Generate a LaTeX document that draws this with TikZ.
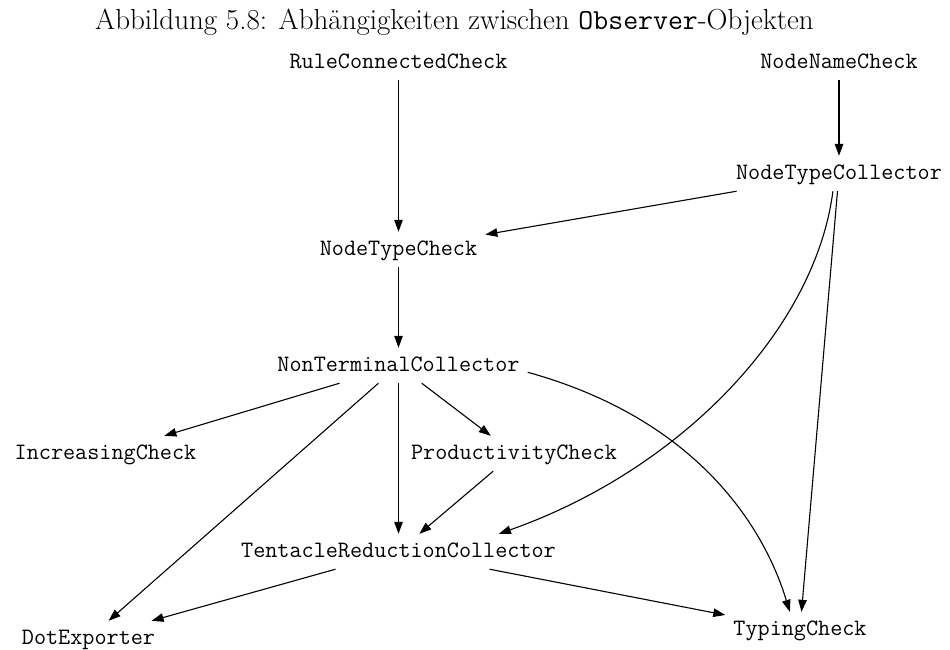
\documentclass[tikz,border=0pt]{standalone}
\usetikzlibrary{arrows.meta}
\begin{document}
\begin{tikzpicture}[x=1pt,y=-1pt,
  obs/.style={font=\fontsize{23.5}{28}\selectfont\ttfamily, inner xsep=8pt, inner ysep=7.5pt,
    text height=15.5pt, text depth=4.5pt},
  dep/.style={line width=1.1pt, -{Triangle[length=12pt,width=8.5pt]}}]
\useasboundingbox (0,0) rectangle (950,649);

% caption
\node[anchor=base west, inner sep=0pt, font=\fontsize{29}{35}\selectfont] (cap) at (95,29)
  {Abbildung 5.8: Abhängigkeiten zwischen \texttt{Observer}-Objekten};

% observer objects
\node[obs] (rcc)   at (398.5,62.5)  {RuleConnectedCheck};
\node[obs] (nnc)   at (839,62.5)    {NodeNameCheck};
\node[obs] (ntcol) at (839,173.5)   {NodeTypeCollector};
\node[obs] (ntchk) at (398.5,249.5) {NodeTypeCheck};
\node[obs] (ntc)   at (398.5,365.5) {NonTerminalCollector};
\node[obs] (inc)   at (105.5,453.5) {IncreasingCheck};
\node[obs] (prod)  at (514,453.5)   {ProductivityCheck};
\node[obs] (trc)   at (398.5,551.5) {TentacleReductionCollector};
\node[obs] (dot)   at (88.5,638.5)  {DotExporter};
\node[obs] (typ)   at (800,629.5)   {TypingCheck};

% dependencies
\draw[dep] (rcc) -- (ntchk);
\draw[dep] (nnc) -- (ntcol);
\draw[dep] (ntcol) -- (ntchk);
\draw[dep] (ntcol.-109) .. controls (815,330) and (680,470) .. (trc.10);
\draw[dep] (ntcol) -- (typ);
\draw[dep] (ntchk) -- (ntc);
\draw[dep] (ntc) -- (inc);
\draw[dep] (ntc) -- (dot);
\draw[dep] (ntc) -- (trc);
\draw[dep] (ntc) -- (prod);
\draw[dep] (ntc.-3) .. controls (700,420) and (765,530) .. (typ.120);
\draw[dep] (prod) -- (trc);
\draw[dep] (trc) -- (dot);
\draw[dep] (trc) -- (typ);
\end{tikzpicture}
\end{document}
